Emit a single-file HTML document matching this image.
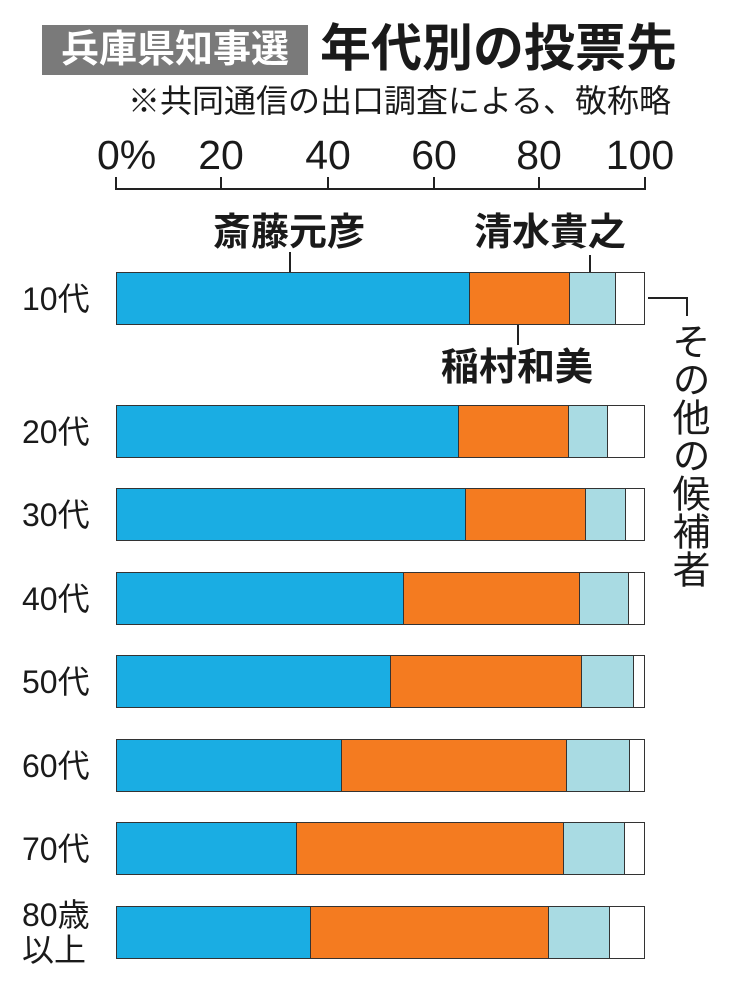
<!DOCTYPE html>
<html><head><meta charset="utf-8"><style>
body{margin:0;background:#fff;width:733px;height:1000px;overflow:hidden;position:relative;font-family:"Liberation Sans","Noto Sans CJK JP",sans-serif;color:#1a1a1a}
.a{position:absolute;white-space:nowrap}
.bar{position:absolute;left:116px;width:529px;height:53px;display:flex;box-sizing:border-box;border:1.5px solid #333}
.bar div{height:100%;box-sizing:border-box;border-right:1.5px solid #333}
.bar div:last-child{border-right:none}
.b{background:#1aade3}.o{background:#f47b20}.l{background:#a9dbe3}.w{background:#fff}
.rl{position:absolute;left:22px;font-size:32px;line-height:1}
.nm{position:absolute;font-size:38px;font-weight:bold;line-height:1}
</style></head><body>
<div class="a" style="left:42px;top:25px;width:266px;height:50px;background:#7a7a7a;color:#fff;font-size:38px;font-weight:bold;line-height:50px;text-align:center">兵庫県知事選</div>
<div class="a" style="left:320px;top:20px;font-size:51px;font-weight:bold;line-height:58px">年代別の投票先</div>
<div class="a" style="left:128px;top:82px;font-size:32px;line-height:38px">※共同通信の出口調査による、敬称略</div>
<div class="a" style="left:97px;top:133px;font-size:41px;line-height:44px">0%</div>
<div class="a" style="left:221px;top:133px;font-size:41px;line-height:44px;transform:translateX(-50%)">20</div>
<div class="a" style="left:328px;top:133px;font-size:41px;line-height:44px;transform:translateX(-50%)">40</div>
<div class="a" style="left:434px;top:133px;font-size:41px;line-height:44px;transform:translateX(-50%)">60</div>
<div class="a" style="left:539px;top:133px;font-size:41px;line-height:44px;transform:translateX(-50%)">80</div>
<div class="a" style="left:640px;top:133px;font-size:41px;line-height:44px;transform:translateX(-50%)">100</div>
<svg class="a" style="left:0;top:0" width="733" height="1000">
<g stroke="#222" stroke-width="2" fill="none">
<path d="M116 177V189H645V177M221 177V189M328 177V189M434 177V189M539 177V189"/>
<path d="M290 252V285M590 255V285M518 312V345"/>
<path d="M648 298H687V316"/>
</g></svg>
<div class="nm" style="left:213px;top:214px">斎藤元彦</div>
<div class="nm" style="left:474px;top:214px">清水貴之</div>
<div class="nm" style="left:441px;top:349px">稲村和美</div>
<div class="a" style="left:667px;top:322px;font-size:38px;line-height:40px;writing-mode:vertical-rl">その他の候補者</div>

<div class="rl" style="top:283px">10代</div>
<div class="bar" style="top:272px"><div class="b" style="width:353px"></div><div class="o" style="width:100px"></div><div class="l" style="width:46px"></div><div class="w" style="flex:1"></div></div>
<div class="rl" style="top:416px">20代</div>
<div class="bar" style="top:405px"><div class="b" style="width:342px"></div><div class="o" style="width:110px"></div><div class="l" style="width:39px"></div><div class="w" style="flex:1"></div></div>
<div class="rl" style="top:499px">30代</div>
<div class="bar" style="top:488px"><div class="b" style="width:349px"></div><div class="o" style="width:120px"></div><div class="l" style="width:40px"></div><div class="w" style="flex:1"></div></div>
<div class="rl" style="top:583px">40代</div>
<div class="bar" style="top:572px"><div class="b" style="width:287px"></div><div class="o" style="width:176px"></div><div class="l" style="width:49px"></div><div class="w" style="flex:1"></div></div>
<div class="rl" style="top:666px">50代</div>
<div class="bar" style="top:655px"><div class="b" style="width:274px"></div><div class="o" style="width:191px"></div><div class="l" style="width:52px"></div><div class="w" style="flex:1"></div></div>
<div class="rl" style="top:750px">60代</div>
<div class="bar" style="top:739px"><div class="b" style="width:225px"></div><div class="o" style="width:225px"></div><div class="l" style="width:63px"></div><div class="w" style="flex:1"></div></div>
<div class="rl" style="top:833px">70代</div>
<div class="bar" style="top:822px"><div class="b" style="width:180px"></div><div class="o" style="width:267px"></div><div class="l" style="width:61px"></div><div class="w" style="flex:1"></div></div>
<div class="rl" style="top:898px;line-height:35px">80歳<br>以上</div>
<div class="bar" style="top:906px"><div class="b" style="width:194px"></div><div class="o" style="width:238px"></div><div class="l" style="width:61px"></div><div class="w" style="flex:1"></div></div>
</body></html>
